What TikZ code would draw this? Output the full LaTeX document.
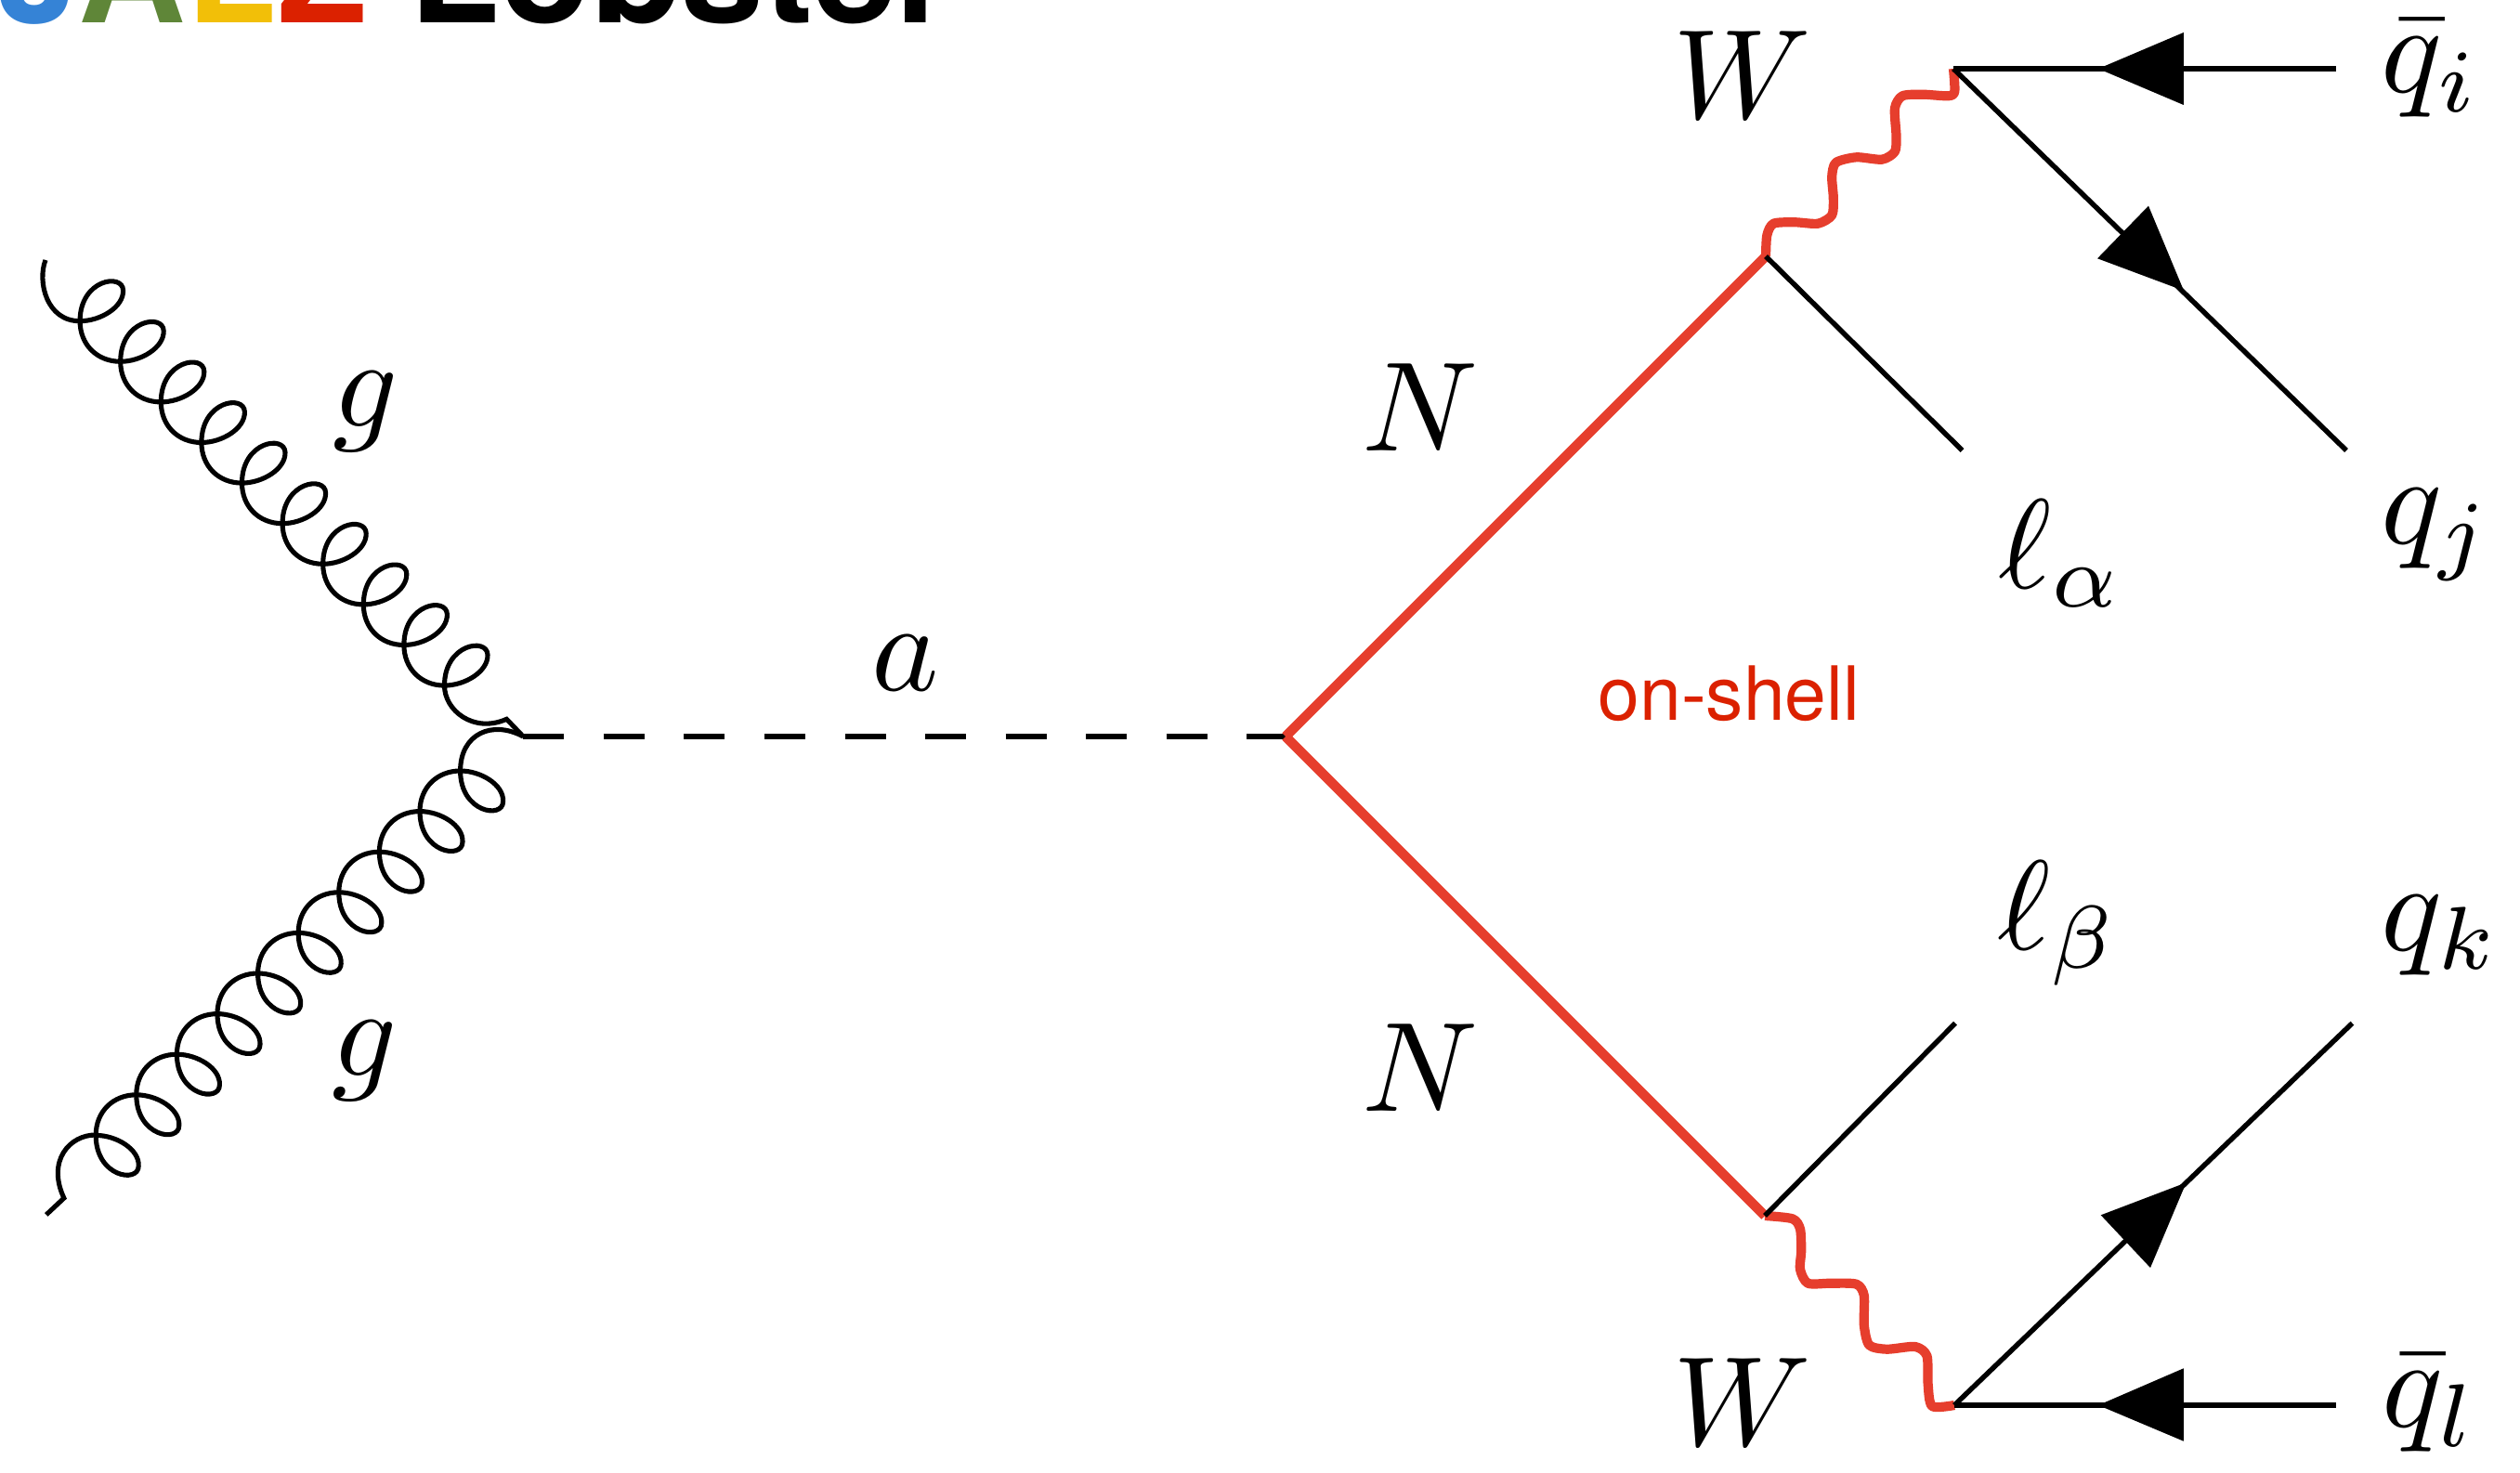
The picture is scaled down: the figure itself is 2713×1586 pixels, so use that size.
\documentclass[tikz,border=0pt]{standalone}
\usepackage{fontspec}
\setsansfont{TeX Gyre Heros}
\definecolor{redline}{HTML}{E63E2D}
\definecolor{redtext}{HTML}{DB2100}
\definecolor{jblue}{HTML}{3583D6}
\definecolor{jgreen}{HTML}{5F8638}
\definecolor{jyellow}{HTML}{F2BF08}
\definecolor{jred}{HTML}{DB2100}
\newcommand{\lab}[1]{\scalebox{3.9}{$#1$}}
\newcommand{\logofont}{\fontsize{45.5}{50}\selectfont\sffamily\bfseries}
\tikzset{
  x=0.01cm,y=-0.01cm,
  fermion/.style={draw=black,line width=1.55pt},
  gluon/.style={draw=black,line width=1.45pt,line join=miter},
  scalar/.style={draw=black,line width=1.75pt,dash pattern=on 0.44cm off 0.425cm},
  heavy/.style={draw=redline,line width=3pt},
  boson/.style={draw=redline,line width=2.9pt,line join=round},
  head/.style={fill=black,draw=none},
  txt/.style={inner sep=0pt,outer sep=0pt,anchor=center},
}
\begin{document}
\begin{tikzpicture}
\useasboundingbox (0,0) rectangle (2713,1586);
\clip (0,0) rectangle (2713,1586);
% vertices
\coordinate (v1) at (563.3,793);
\coordinate (v2) at (1384,793);
\coordinate (tw) at (1901,276);
\coordinate (bw) at (1900,1309);
\coordinate (tq) at (2103,74);
\coordinate (bq) at (2104,1513);
\coordinate (eqi) at (2515,74);
\coordinate (eqj) at (2526,485);
\coordinate (ela) at (2112.5,485);
\coordinate (elb) at (2105,1101.7);
\coordinate (eqk) at (2532.4,1101.7);
\coordinate (eql) at (2515,1513);
\coordinate (gt) at (49,280);
\coordinate (gb) at (49.8,1307.9);
% logo
\node[txt,anchor=base west] (logo) at (-4,25) {\logofont\textcolor{jblue}{J}\textcolor{jgreen}{A}\textcolor{jyellow}{L}\textcolor{jred}{Z} \textcolor{black}{Lobster}};
% top gluon
\draw[gluon] (gt) .. controls (40,303) and (50,346) .. (86.1,345.7);
\foreach \n in {0,...,9}{
  \begin{scope}[shift={(\n*43.6,\n*43.6)}]
    \draw[gluon] (86.1,345.7)
      .. controls (108.1,345.7) and (133.1,330.7) .. (132.6,312.7)
      .. controls (132.1,293.7) and (86.1,300.7) .. (86.1,345.7);
  \end{scope}
}
\foreach \n in {0,...,8}{
  \begin{scope}[shift={(\n*43.6,\n*43.6)}]
    \draw[gluon] (86.1,345.7) .. controls (86.1,370.7) and (104.1,389.3) .. (129.7,389.3);
  \end{scope}
}
\draw[gluon] (478.5,738.1) .. controls (478.4,765) and (510,790) .. (545.4,774.3) -- (v1);
% bottom gluon
\draw[gluon] (v1) .. controls (530,775) and (495.6,790) .. (495.6,830);
\foreach \n in {0,...,9}{
  \begin{scope}[shift={(-\n*43.6,\n*43.6)}]
    \draw[gluon] (495.6,830)
      .. controls (495.6,875) and (541.6,882) .. (541.6,863)
      .. controls (542.6,845) and (517.6,830) .. (495.6,830);
  \end{scope}
}
\foreach \n in {0,...,8}{
  \begin{scope}[shift={(-\n*43.6,\n*43.6)}]
    \draw[gluon] (495.6,830) .. controls (470.6,830) and (452,848) .. (452,873.6);
  \end{scope}
}
\draw[gluon] (103.2,1222) .. controls (75,1221.8) and (50,1250) .. (68.9,1290) -- (gb);
% scalar
\draw[scalar] (v1) -- (v2);
% heavy
\draw[heavy] (v2) -- (tw);
\draw[heavy] (v2) -- (bw);
% W bosons
\draw[boson] plot[smooth,tension=0.45] coordinates {(tw) (1902.3,253.3) (1909.4,240.7) (1932.6,239.3) (1957.3,240.7) (1972.2,231.7) (1973.8,213.3) (1972.2,190) (1976.6,175) (1998.6,169.3) (2026.1,171.7) (2039.9,163.3) (2041.5,146.7) (2039.9,116.7) (2048.1,103.3) (2070.1,101.7) (2097.7,103.3) (2104.3,98.3) (tq)};
\draw[boson] plot[smooth,tension=0.45] coordinates {(bw) (1929.8,1312.3) (1938,1323.3) (1939.2,1346.7) (1938,1366.7) (1946.3,1381.7) (1971,1381.7) (1998.6,1382.7) (2006.8,1395) (2006.8,1426.7) (2012.4,1448.3) (2031.6,1452.7) (2061.9,1450) (2074.5,1460) (2075.6,1490) (2080,1514) (bq)};
% fermions
\draw[fermion] (tq) -- (eqi);
\draw[fermion] (tq) -- (eqj);
\draw[fermion] (tw) -- (ela);
\draw[fermion] (bw) -- (elb);
\draw[fermion] (bq) -- (eqk);
\draw[fermion] (bq) -- (eql);
% arrowheads
\fill[head] (2259,74) -- (2350.8,35) -- (2350.8,113) -- cycle;
\fill[head] (2351,313) -- (2313,221.7) -- (2258,278.3) -- cycle;
\fill[head] (2353.6,1273.3) -- (2261.7,1308.3) -- (2315,1365) -- cycle;
\fill[head] (2259,1513) -- (2350.8,1473.3) -- (2350.8,1551.7) -- cycle;
% labels
\node[txt] (lgt) at (394,443) {\lab{g}};
\node[txt] (lgb) at (393,1142) {\lab{g}};
\node[txt] (la) at (975,714) {\lab{a}};
\node[txt] (lnt) at (1529,439) {\lab{N}};
\node[txt] (lnb) at (1529,1150) {\lab{N}};
\node[txt] (lwt) at (1876,81) {\lab{W}};
\node[txt] (lwb) at (1876,1510) {\lab{W}};
\node[txt] (lqi) at (2617,74) {\lab{\bar q_i}};
\node[txt] (lqj) at (2623,576) {\lab{q_j}};
\node[txt] (lla) at (2219,596) {\lab{\ell_\alpha}};
\node[txt] (llb) at (2216,994) {\lab{\ell_\beta}};
\node[txt] (lqk) at (2628,1007) {\lab{q_k}};
\node[txt] (lql) at (2616,1511) {\lab{\bar q_l}};
\node[txt,anchor=base,text=redtext,font=\fontsize{22.9}{24}\selectfont\sffamily] (shell) at (1861.5,775.7) {on-shell};
\end{tikzpicture}
\end{document}
